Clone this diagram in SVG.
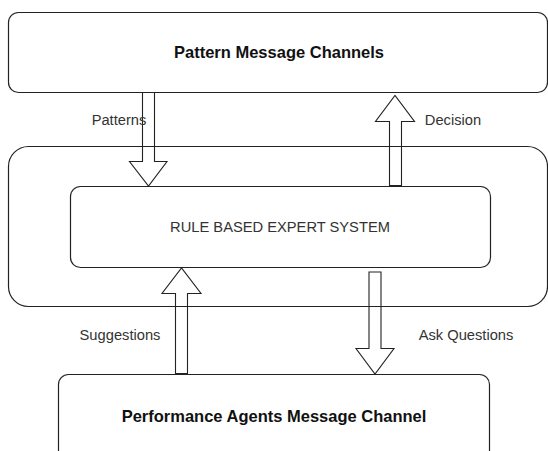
<svg xmlns="http://www.w3.org/2000/svg" width="548" height="451" viewBox="0 0 548 451">
<style>
.box{fill:#fff;stroke:#222;stroke-width:1.2}
.arrow{fill:none;stroke:#222;stroke-width:1.1;stroke-linejoin:miter}
.title{font-family:"Liberation Sans",Arial,sans-serif;font-weight:bold;font-size:16.5px;fill:#111;text-anchor:middle}
.label{font-family:"Liberation Sans",Arial,sans-serif;font-size:14.7px;fill:#333;text-anchor:middle}
</style>
<rect width="548" height="451" fill="#fff"/>
<g id="pattern-channels">
<rect class="box" x="8.5" y="12.5" width="539" height="80" rx="10"/>
<text class="title" x="279" y="58">Pattern Message Channels</text>
</g>
<g id="container">
<rect class="box" x="8.5" y="146.5" width="539" height="160" rx="20"/>
</g>
<g id="rule-system">
<rect class="box" x="70.5" y="186.5" width="420" height="81" rx="10"/>
<text class="label" x="280" y="232">RULE BASED EXPERT SYSTEM</text>
</g>
<g id="performance-channel">
<rect class="box" x="58.5" y="374.5" width="431" height="90" rx="10"/>
<text class="title" x="274" y="422">Performance Agents Message Channel</text>
</g>
<g id="connectors">
<path class="arrow" d="M142.5,92.5 L154.5,92.5 L154.5,161.5 L167,161.5 L148.5,186 L129.5,161.5 L142.5,161.5 Z"/>
<path class="arrow" d="M389.5,185.5 L401.5,185.5 L401.5,121.5 L414.5,121.5 L395,95.5 L375.5,121.5 L389.5,121.5 Z"/>
<path class="arrow" d="M175.5,373.5 L187.5,373.5 L187.5,293.5 L201,293.5 L181.5,268 L162,293.5 L175.5,293.5 Z"/>
<path class="arrow" d="M369,272 L381,272 L381,348.5 L394,348.5 L375,374 L356,348.5 L369,348.5 Z"/>
<text class="label" x="119" y="124.5">Patterns</text>
<text class="label" x="453" y="124.5">Decision</text>
<text class="label" x="120" y="340">Suggestions</text>
<text class="label" x="466" y="340">Ask Questions</text>
</g>
</svg>
